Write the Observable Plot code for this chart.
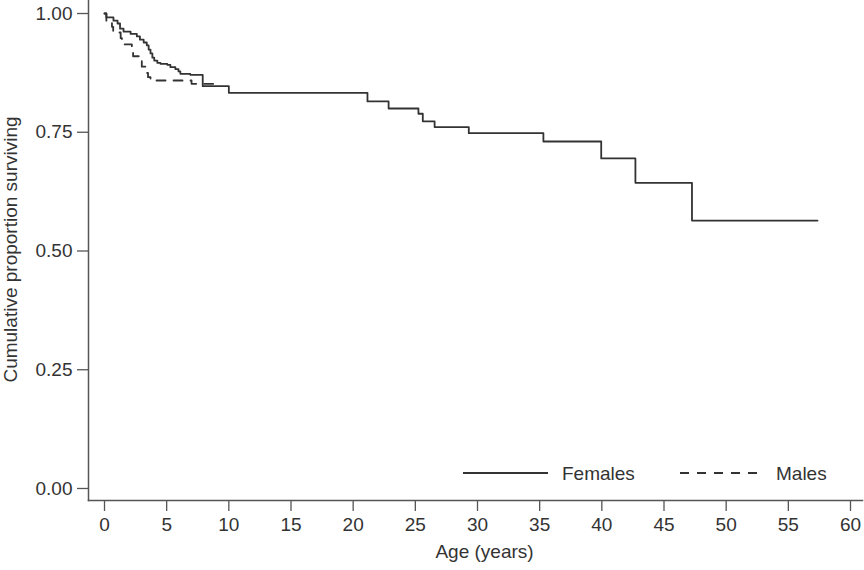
<!DOCTYPE html>
<html>
<head>
<meta charset="utf-8">
<script src="https://cdn.jsdelivr.net/npm/d3@7"></script>
<script src="https://cdn.jsdelivr.net/npm/@observablehq/plot@0.6"></script>
<style>
  body { margin: 0; background: #fff; }
  #wrap { position: relative; width: 864px; height: 570px; font-family: "Liberation Sans", Arial, sans-serif; }
  #legend { position: absolute; left: 0; top: 0; pointer-events: none; }
</style>
</head>
<body>
<div id="wrap"></div>
<script>
// Female Kaplan-Meier steps (age in years, cumulative proportion surviving)
const femaleTime = [0, 0.15, 0.72, 1.05, 1.25, 1.53, 2.1, 2.6, 2.85, 3.15, 3.4, 3.55, 3.7, 3.85, 4.0, 4.25, 4.5, 5.05, 5.3, 5.7, 5.95, 6.1, 6.9, 7.9, 10.0, 21.15, 22.85, 25.25, 25.6, 26.55, 29.3, 35.3, 39.95, 42.7, 47.25, 57.35];
const femaleSurv = [1.0, 0.992, 0.985, 0.979, 0.968, 0.962, 0.957, 0.952, 0.945, 0.939, 0.933, 0.924, 0.916, 0.907, 0.901, 0.896, 0.894, 0.892, 0.887, 0.883, 0.878, 0.873, 0.871, 0.847, 0.833, 0.815, 0.80, 0.789, 0.773, 0.761, 0.748, 0.7305, 0.695, 0.6435, 0.564, 0.564];
// Male Kaplan-Meier steps
const maleTime = [0, 0.15, 0.6, 0.7, 1.3, 1.4, 2.2, 2.3, 2.9, 3.0, 3.3, 3.5, 3.7, 7.0, 8.85];
const maleSurv = [1.0, 0.985, 0.972, 0.96, 0.948, 0.935, 0.925, 0.91, 0.9, 0.888, 0.875, 0.866, 0.859, 0.852, 0.852];

const xTicks = [0, 5, 10, 15, 20, 25, 30, 35, 40, 45, 50, 55, 60];
const yTicks = [0, 0.25, 0.5, 0.75, 1.0];
const seriesNames = ["Females", "Males"];

const females = femaleTime.map((t, i) => ({t, s: femaleSurv[i]}));
const males = maleTime.map((t, i) => ({t, s: maleSurv[i]}));

const axisColor = "#555";
const lineColor = "#333";

const chart = Plot.plot({
  width: 864,
  height: 570,
  marginLeft: 88,
  marginRight: 2,
  marginTop: 0,
  marginBottom: 70,
  style: {fontFamily: "'Liberation Sans', Arial, sans-serif", fontSize: "19px", color: "#333", background: "#fff"},
  x: {domain: [-1.287, 60.965]},
  y: {domain: [-0.0253, 1.0274]},
  marks: [
    Plot.axisX(xTicks, {tickSize: 11, tickPadding: 6, stroke: axisColor, fill: "#333", label: null, strokeWidth: 1.3}),
    Plot.axisY(yTicks, {tickSize: 11, tickPadding: 5, tickFormat: d3.format(".2f"), stroke: axisColor, fill: "#333", label: null, strokeWidth: 1.3}),
    Plot.frame({anchor: "left", stroke: axisColor, strokeWidth: 1.5}),
    Plot.frame({anchor: "bottom", stroke: axisColor, strokeWidth: 1.5}),
    Plot.text(["Age (years)"], {frameAnchor: "bottom", dx: 9, dy: 57, fill: "#333"}),
    Plot.text(["Cumulative proportion surviving"], {frameAnchor: "left", textAnchor: "middle", rotate: -90, dx: -78, dy: -1, fill: "#333"}),
    Plot.line(males, {x: "t", y: "s", curve: "step-after", stroke: lineColor, strokeWidth: 1.8, strokeDasharray: "9,8"}),
    Plot.line(females, {x: "t", y: "s", curve: "step-after", stroke: lineColor, strokeWidth: 1.8})
  ]
});

const wrap = document.getElementById("wrap");
wrap.appendChild(chart);

// Legend overlay
const ns = "http://www.w3.org/2000/svg";
const leg = document.createElementNS(ns, "svg");
leg.setAttribute("id", "legend");
leg.setAttribute("width", 864);
leg.setAttribute("height", 570);
const items = [
  {name: seriesNames[0], x1: 463, x2: 548, tx: 562, dash: null},
  {name: seriesNames[1], x1: 680, x2: 762, tx: 776, dash: "9,8"}
];
for (const it of items) {
  const l = document.createElementNS(ns, "line");
  l.setAttribute("x1", it.x1); l.setAttribute("x2", it.x2);
  l.setAttribute("y1", 473); l.setAttribute("y2", 473);
  l.setAttribute("stroke", lineColor); l.setAttribute("stroke-width", 1.8);
  if (it.dash) l.setAttribute("stroke-dasharray", it.dash);
  leg.appendChild(l);
  const t = document.createElementNS(ns, "text");
  t.setAttribute("x", it.tx); t.setAttribute("y", 473);
  t.setAttribute("dy", "0.35em");
  t.setAttribute("fill", "#333");
  t.setAttribute("font-size", "19px");
  t.setAttribute("font-family", "'Liberation Sans', Arial, sans-serif");
  t.textContent = it.name;
  leg.appendChild(t);
}
wrap.appendChild(leg);
</script>
</body>
</html>
